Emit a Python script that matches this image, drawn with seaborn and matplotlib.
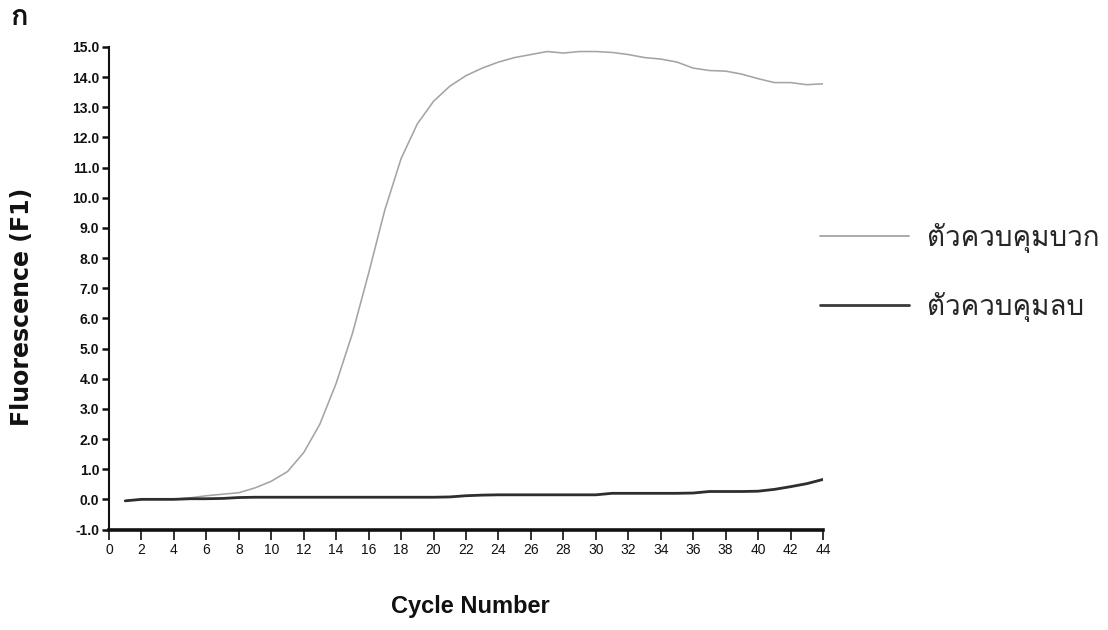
import numpy as np
import pandas as pd
import matplotlib
matplotlib.use("Agg")
import matplotlib.pyplot as plt
from matplotlib import font_manager
from matplotlib.ft2font import FT2Font
from matplotlib.lines import Line2D
import seaborn as sns

# Real-time PCR amplification curves
cycles = list(range(1, 45))
positive_control = [
    -0.05, 0.00, 0.00, 0.00, 0.05, 0.12, 0.17, 0.22, 0.38, 0.60,
    0.92, 1.55, 2.50, 3.85, 5.50, 7.50, 9.60, 11.30, 12.45, 13.20,
    13.70, 14.05, 14.30, 14.50, 14.65, 14.75, 14.85, 14.80, 14.85, 14.85,
    14.82, 14.75, 14.65, 14.60, 14.50, 14.30, 14.22, 14.20, 14.10, 13.95,
    13.82, 13.82, 13.75, 13.78,
]
negative_control = [
    -0.05, 0.00, 0.00, 0.00, 0.02, 0.02, 0.03, 0.06, 0.07, 0.07,
    0.07, 0.07, 0.07, 0.07, 0.07, 0.07, 0.07, 0.07, 0.07, 0.07,
    0.08, 0.12, 0.14, 0.15, 0.15, 0.15, 0.15, 0.15, 0.15, 0.15,
    0.20, 0.20, 0.20, 0.20, 0.20, 0.21, 0.26, 0.26, 0.26, 0.27,
    0.33, 0.42, 0.52, 0.66,
]
series_names = ["ตัวควบคุมบวก", "ตัวควบคุมลบ"]
panel_label = "ก"
x_ticks = list(range(0, 45, 2))
y_ticks = [float(v) for v in range(-1, 16)]


def find_family(sample):
    """Return the first installed family that has glyphs for every char."""
    chars = [c for c in sample if not c.isspace()]
    for fe in font_manager.fontManager.ttflist:
        try:
            f = FT2Font(fe.fname)
            if all(f.get_char_index(ord(c)) for c in chars):
                return fe.name
        except Exception:
            continue
    return None


sns.set_theme(style="white")
thai_family = find_family("".join(series_names) + panel_label) or "DejaVu Sans"
narrow = "Liberation Sans Narrow"
narrow_ok = any(fe.name == narrow for fe in font_manager.fontManager.ttflist)
tick_family = [narrow if narrow_ok else "Liberation Sans", "DejaVu Sans"]
plt.rcParams["font.family"] = ["DejaVu Sans", thai_family]

df = pd.DataFrame({
    "cycle": cycles * 2,
    "value": positive_control + negative_control,
    "series": [series_names[0]] * len(cycles) + [series_names[1]] * len(cycles),
})
colors = {series_names[0]: "#a4a4a4", series_names[1]: "#2e2e2e"}
widths = {series_names[0]: 1.15, series_names[1]: 2.0}

fig = plt.figure(figsize=(11.08, 6.30), dpi=100)
W, H = 1108, 630
ax = fig.add_axes([109 / W, 1 - 529.5 / H, (823 - 109) / W, (529.5 - 47) / H])

for name in series_names:
    sns.lineplot(data=df[df["series"] == name], x="cycle", y="value",
                 color=colors[name], linewidth=widths[name], ax=ax,
                 legend=False, zorder=3 if name == series_names[1] else 2)

ax.set_xlim(0, 44)
ax.set_ylim(-1, 15)
ax.set_xticks(x_ticks)
ax.set_xticklabels([str(v) for v in x_ticks], family=tick_family, fontsize=10)
ax.set_yticks(y_ticks)
ax.set_yticklabels([f"{v:.1f}" for v in y_ticks], family=tick_family,
                   fontsize=10, fontweight="bold")
ax.tick_params(axis="x", direction="out", length=7, width=1.2, pad=3,
               colors="#111111", bottom=True)
ax.tick_params(axis="y", direction="out", length=5, width=1.8, pad=2,
               colors="#111111", left=True)
ax.set_xlabel("")
ax.set_ylabel("")
for side in ("top", "right"):
    ax.spines[side].set_visible(False)
ax.spines["left"].set_linewidth(1.5)
ax.spines["left"].set_color("#111111")
ax.spines["bottom"].set_linewidth(2.6)
ax.spines["bottom"].set_color("#111111")
ax.grid(False)

fig.text(22 / W, 1 - 307 / H, "Fluorescence (F1)", rotation=90,
         ha="center", va="center", fontsize=17, fontweight="heavy",
         family=["DejaVu Sans"], color="#111111")
fig.text(470 / W, 1 - 606 / H, "Cycle Number", ha="center", va="center",
         fontsize=17, fontweight="bold", family=tick_family, color="#111111")
fig.text(10 / W, 1 - 17 / H, panel_label, ha="left", va="center",
         fontsize=21, fontweight="bold", family=[thai_family, "DejaVu Sans"],
         color="#111111")

handles = [Line2D([], [], color="#a4a4a4", linewidth=1.3),
           Line2D([], [], color="#3a3a3a", linewidth=2.0)]
leg = fig.legend(handles, series_names, loc="upper left",
                 bbox_to_anchor=(795 / W, 1 - 198 / H), frameon=False,
                 prop={"family": [thai_family, "DejaVu Sans"], "size": 20},
                 handlelength=3.2, handletextpad=0.65, labelspacing=1.4)

fig.savefig("out.png", dpi=100)
